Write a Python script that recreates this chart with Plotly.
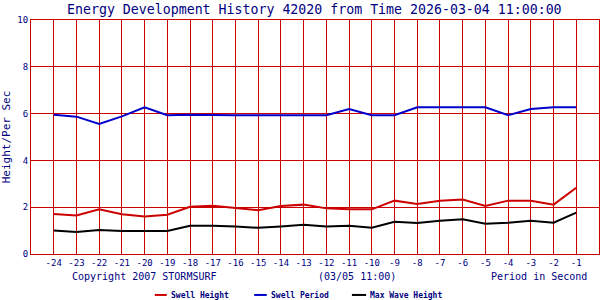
import plotly.graph_objects as go

periods = [-24, -23, -22, -21, -20, -19, -18, -17, -16, -15, -14, -13,
           -12, -11, -10, -9, -8, -7, -6, -5, -4, -3, -2, -1]
swell_height = [1.71, 1.65, 1.91, 1.70, 1.60, 1.68, 2.02, 2.06, 1.97, 1.87, 2.05, 2.11,
                1.95, 1.91, 1.91, 2.28, 2.14, 2.28, 2.33, 2.05, 2.28, 2.28, 2.11, 2.83]
swell_period = [5.95, 5.87, 5.56, 5.88, 6.27, 5.93, 5.95, 5.93, 5.93, 5.93, 5.93, 5.93,
                5.93, 6.20, 5.93, 5.93, 6.27, 6.27, 6.27, 6.27, 5.93, 6.20, 6.27, 6.27]
max_wave = [1.00, 0.94, 1.03, 0.98, 0.98, 0.98, 1.21, 1.21, 1.17, 1.12, 1.18, 1.25,
            1.17, 1.21, 1.12, 1.38, 1.32, 1.42, 1.48, 1.29, 1.34, 1.42, 1.34, 1.77]
y_ticks = [0, 2, 4, 6, 8, 10]

RED = "#CC0000"
BLUE = "#0000CC"
NAVY = "#000080"
MONO = "DejaVu Sans Mono"

fig = go.Figure()
fig.add_trace(go.Scatter(x=periods, y=swell_height, mode="lines",
                         line=dict(color=RED, width=2), name="Swell Height"))
fig.add_trace(go.Scatter(x=periods, y=swell_period, mode="lines",
                         line=dict(color=BLUE, width=2), name="Swell Period"))
fig.add_trace(go.Scatter(x=periods, y=max_wave, mode="lines",
                         line=dict(color="black", width=2), name="Max Wave Height"))

grid_vals = list(range(-25, 1))
grid_text = ["" if v in (-25, 0) else str(v) for v in grid_vals]

fig.update_layout(
    width=600, height=300,
    margin=dict(l=31, r=1, t=20, b=46),
    paper_bgcolor="white", plot_bgcolor="white",
    showlegend=False,
    font=dict(family=MONO, color=NAVY),
    xaxis=dict(range=[-25, 0], tickmode="array", tickvals=grid_vals, ticktext=grid_text,
               showgrid=True, gridcolor=RED, gridwidth=1,
               showline=True, linecolor=RED, linewidth=1, mirror=True,
               zeroline=False, ticks="", tickfont=dict(size=9, color=NAVY, family=MONO)),
    yaxis=dict(range=[0, 10], tickmode="array", tickvals=y_ticks,
               showgrid=True, gridcolor=RED, gridwidth=1,
               showline=True, linecolor=RED, linewidth=1, mirror=True,
               zeroline=False, ticks="", tickfont=dict(size=9, color=NAVY, family=MONO),
               title=dict(text="Height/Per Sec", font=dict(size=11, color=NAVY, family=MONO),
                          standoff=4)),
)

ann = [
    dict(text="Energy Development History 42020 from Time 2026-03-04 11:00:00",
         x=0.4995, y=1.047, font=dict(size=13.25), xanchor="center"),
    dict(text="Copyright 2007 STORMSURF", x=0.0687, y=-0.098, font=dict(size=10), xanchor="left"),
    dict(text="(03/05 11:00)", x=0.502, y=-0.098, font=dict(size=10), xanchor="left"),
    dict(text="Period in Second", x=0.806, y=-0.098, font=dict(size=10), xanchor="left"),
    dict(text="<b>Swell Height</b>", x=0.243, y=-0.175, font=dict(size=8), xanchor="left"),
    dict(text="<b>Swell Period</b>", x=0.419, y=-0.175, font=dict(size=8), xanchor="left"),
    dict(text="<b>Max Wave Height</b>", x=0.593, y=-0.175, font=dict(size=8), xanchor="left"),
]
for a in ann:
    fig.add_annotation(xref="paper", yref="paper", showarrow=False, yanchor="middle",
                       font_color=NAVY, font_family=MONO, **{k: v for k, v in a.items()})

for x0, x1, c in [(0.218, 0.239, RED), (0.393, 0.415, BLUE), (0.565, 0.590, "black")]:
    fig.add_shape(type="line", xref="paper", yref="paper", x0=x0, x1=x1,
                  y0=-0.175, y1=-0.175, line=dict(color=c, width=2))

fig.write_html("out.html")
